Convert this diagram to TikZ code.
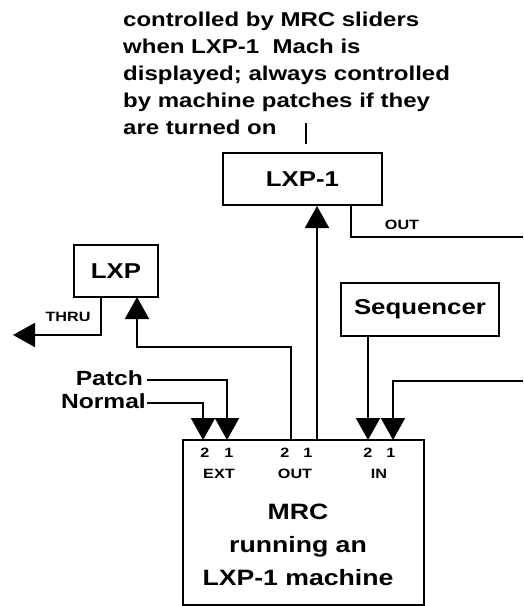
\documentclass[tikz,border=0pt]{standalone}
\usepackage{fontspec}
\setmainfont{Liberation Sans}[FakeStretch=1.2]
\usetikzlibrary{arrows.meta}
\begin{document}
\begin{tikzpicture}[x=1pt,y=-1pt,
  box/.style={draw,line width=2pt,inner sep=0pt,font=\fontsize{21.5}{24}\selectfont\bfseries},
  wire/.style={line width=2pt},
  arr/.style={line width=2pt,-{Triangle[length=22pt,width=24pt]}},
  small/.style={font=\fontsize{13.5}{15}\selectfont\bfseries,inner sep=0pt},
  big/.style={font=\fontsize{20.5}{24}\selectfont\bfseries,inner sep=0pt}]
\useasboundingbox (0,0) rectangle (523,606);
% top note (base anchor = baseline of the last line)
\node[anchor=base west,align=left,inner sep=0pt,
  font=\fontsize{20}{27.2}\selectfont\bfseries] (note) at (123,134.8)
  {controlled by MRC sliders\\when LXP-1\ \ Mach is\\displayed; always controlled\\by machine patches if they\\are turned on};
\coordinate (bartop) at (306,123);
\coordinate (barbot) at (306,144);
\draw[wire] (bartop) -- (barbot);
% boxes
\node[box,minimum width=159pt,minimum height=52pt] (lxp1) at (302.5,179) {LXP-1};
\node[box,minimum width=84pt,minimum height=52pt] (lxp) at (116,271) {LXP};
\node[box,minimum width=158pt,minimum height=53pt] (seq) at (420,309.5) {Sequencer};
\node[draw,line width=2pt,minimum width=241pt,minimum height=165pt,inner sep=0pt] (mrc) at (303.5,522.5) {};
\node[align=center,inner sep=0pt,font=\fontsize{22.2}{33}\selectfont\bfseries] (mrct) at (298,545) {MRC\\running an\\LXP-1 machine};
% port labels
\node[small] (e2) at (205,453) {2};
\node[small] (e1) at (229,453) {1};
\node[small] (ext) at (219,474) {EXT};
\node[small] (o2) at (285,453) {2};
\node[small] (o1) at (308,453) {1};
\node[small] (out) at (295,474) {OUT};
\node[small] (i2) at (368,453) {2};
\node[small] (i1) at (391,453) {1};
\node[small] (in) at (379,474) {IN};
% other labels
\node[small] (thru) at (68,317) {THRU};
\node[small] (outl) at (402,225) {OUT};
\node[big,anchor=east] (patch) at (143,378) {Patch};
\node[big,anchor=east] (normal) at (146,401) {Normal};
% coordinates
\coordinate (pout1) at (317,440);
\coordinate (pout2) at (291,440);
\coordinate (pext1) at (227,440);
\coordinate (pext2) at (203,440);
\coordinate (pin1) at (393,440);
\coordinate (pin2) at (368,440);
\coordinate (thruend) at (13,335);
\coordinate (outend) at (523,237);
\coordinate (inend) at (523,381);
% connectors
\draw[arr] (pout1) -- (pout1 |- lxp1.south);
\draw[arr] (pout2) |- (137,347) -- (137,297);
\draw[arr] (101,297) |- (thruend);
\draw[wire] (351,205) |- (outend);
\draw[arr] (seq.south -| pin2) -- (pin2);
\draw[arr] (inend) -| (pin1);
\draw[arr] (patch.east |- 0,380) ++(4,0) -| (pext1);
\draw[arr] (normal.east |- 0,403) ++(1,0) -| (pext2);
\end{tikzpicture}
\end{document}
